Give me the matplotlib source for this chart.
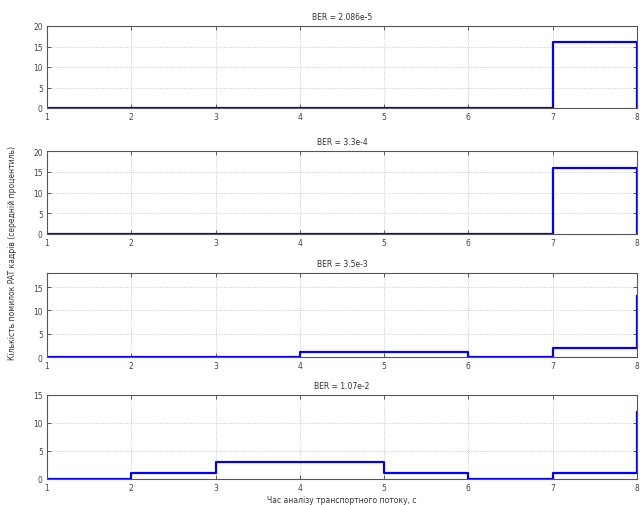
import numpy as np
import matplotlib.pyplot as plt

# ----- Data -----
time_s = [1, 2, 3, 4, 5, 6, 7, 8, 8]
titles = ["BER = 2.086e-5", "BER = 3.3e-4", "BER = 3.5e-3", "BER = 1.07e-2"]
errors_1 = [0, 0, 0, 0, 0, 0, 16, 16, 0]
errors_2 = [0, 0, 0, 0, 0, 0, 16, 16, 0]
errors_3 = [0, 0, 0, 1, 1, 0, 2, 2, 13]
errors_4 = [0, 1, 3, 3, 1, 0, 1, 1, 12]
series = [errors_1, errors_2, errors_3, errors_4]
y_tops = [20, 20, 18, 15]
y_ticks = [[0, 5, 10, 15, 20], [0, 5, 10, 15, 20], [0, 5, 10, 15], [0, 5, 10, 15]]

plt.rcParams['font.family'] = ['DejaVu Sans']
fig = plt.figure(figsize=(6.43, 5.06), dpi=100)

# axes boxes in pixels: (top, bottom)
W, H = 643, 506
boxes = [(27, 109), (152, 235), (274, 358), (396, 480)]
left, right = 47, 637

for k in range(4):
    top, bot = boxes[k]
    ax = fig.add_axes([left / W, 1 - bot / H, (right - left) / W, (bot - top) / H])
    ax.plot(time_s, series[k], color="#0000ff", lw=1.6, drawstyle="steps-post")
    ax.set_xlim(1, 8)
    ax.set_ylim(0, y_tops[k])
    ax.set_xticks(np.arange(1, 9))
    ax.set_yticks(y_ticks[k])
    ax.tick_params(direction="in", labelsize=5.5, length=3, width=0.6,
                   top=True, right=True, colors="#444444", pad=3)
    ax.grid(True, linestyle=":", linewidth=0.6, color="#bbbbbb")
    for s in ax.spines.values():
        s.set_linewidth(0.8)
        s.set_color("#555555")
    ax.set_title(titles[k], fontsize=5.5, color="#333333", pad=5)

ax.set_xlabel("Час аналізу транспортного потоку, с", fontsize=5.5,
              color="#333333", labelpad=2)
fig.text(0.012, 0.5, "Кількість помилок PAT кадрів (середній процентиль)",
         rotation=90, va="center", ha="left", fontsize=5.5, color="#333333")

fig.savefig("out.png", dpi=100)
